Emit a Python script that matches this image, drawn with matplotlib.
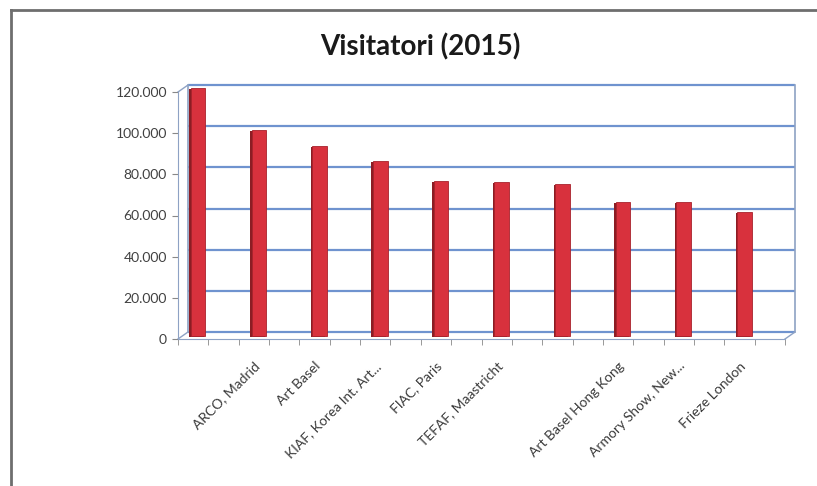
import matplotlib
matplotlib.use("Agg")
import matplotlib.pyplot as plt
import matplotlib.transforms as mtransforms
from matplotlib.lines import Line2D
from matplotlib.ticker import FuncFormatter, FixedLocator

# data
fiere = ['', 'ARCO, Madrid', 'Art Basel', 'KIAF, Korea Int. Art...', 'FIAC, Paris',
         'TEFAF, Maastricht', '', 'Art Basel Hong Kong', 'Armory Show, New...',
         'Frieze London']
visitatori = [120000, 100000, 92000, 85000, 75000, 74500, 73500, 65000, 65000, 60000]
y_ticks = [0, 20000, 40000, 60000, 80000, 100000, 120000]

plt.rcParams['font.family'] = ['Lato', 'DejaVu Sans']

W, H = 817, 486
fig = plt.figure(figsize=(W / 100, H / 100), dpi=100)
# front plane of the 3d box
ax = fig.add_axes([178 / W, (H - 339) / H, 607 / W, 247 / H])
ax.set_xlim(-0.235, 9.266)
ax.set_ylim(0, 120000)

grid_col = '#6f93cf'
axis_col = '#8ea2c4'
back = mtransforms.ScaledTranslation(0.10, 0.07, fig.dpi_scale_trans)
mid = mtransforms.ScaledTranslation(0.05, 0.035, fig.dpi_scale_trans)
side = mtransforms.ScaledTranslation(0.035, 0.025, fig.dpi_scale_trans)

# back wall gridlines and edges
ax.hlines(y_ticks, 0, 1, transform=ax.get_yaxis_transform() + back,
          colors=grid_col, lw=1.6, zorder=1, clip_on=False)
for xx in [0, 1]:
    ax.add_line(Line2D([xx, xx], [0, 1], transform=ax.transAxes + back,
                       color=axis_col, lw=1.2, zorder=1, clip_on=False))
    # floor depth lines
    ax.add_line(Line2D([xx, xx + 10 / 607], [0, 7 / 247], transform=ax.transAxes,
                       color=axis_col, lw=1.0, zorder=1, clip_on=False))
# left side wall depth at the top
ax.add_line(Line2D([0, 10 / 607], [1, 1 + 7 / 247], transform=ax.transAxes,
                   color=axis_col, lw=1.0, zorder=1, clip_on=False))

x = list(range(len(visitatori)))
# darker side of each bar, then the front face
ax.bar(x, visitatori, width=0.24, color='#8c1d24', zorder=2,
       transform=ax.transData + side, clip_on=False)
b = ax.bar(x, visitatori, width=0.24, color='#d8313d', edgecolor='#a8232c',
           lw=0.6, zorder=3, clip_on=False)
for p in b:
    p.set_transform(ax.transData + mid)

for s in ['top', 'right']:
    ax.spines[s].set_visible(False)
ax.spines['left'].set_color(axis_col)
ax.spines['bottom'].set_color(axis_col)
ax.spines['left'].set_zorder(4)

ax.yaxis.set_major_locator(FixedLocator(y_ticks))
ax.yaxis.set_major_formatter(FuncFormatter(lambda v, p: f'{int(v):,}'.replace(',', '.')))
ax.tick_params(axis='y', colors='#888888', labelcolor='#404040', labelsize=10,
               length=4, pad=4)

ax.set_xticks(x)
ax.set_xticklabels(fiere, rotation=45, ha='right', rotation_mode='anchor',
                   fontsize=10, color='#3a3a3a')
ax.set_xticks([i * 0.5 - 0.25 for i in range(21)], minor=True)
ax.tick_params(axis='x', which='major', length=0, pad=15)
ax.tick_params(axis='x', which='minor', length=4, colors='#888888')

fig.text(420 / W, 1 - 47 / H, 'Visitatori (2015)', ha='center', va='center',
         fontsize=20, fontweight='bold', color='#1a1a1a')

# outer frame (left and top only)
fig.add_artist(Line2D([11 / W, 11 / W], [0, 1 - 10 / H], color='#6e6e6e', lw=2))
fig.add_artist(Line2D([11 / W, 1], [1 - 10 / H, 1 - 10 / H], color='#6e6e6e', lw=2))

fig.savefig('out.png', dpi=100)
